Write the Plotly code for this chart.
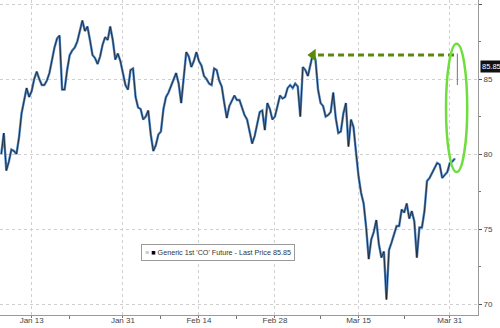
import pandas as pd
import plotly.graph_objects as go

# ---- data (Brent, 3 readings per trading day at 00h, 08h, 16h) ----
start_day = "2023-01-09"
end_day = "2023-03-31"
slot_hours = [0, 8, 16]
prices = [
    80.0, 81.4, 78.9, 79.5, 80.3, 80.2, 80.0, 81.1, 82.7, 83.5,
    84.4, 83.8, 84.2, 85.0, 85.5, 85.0, 84.6, 84.6, 84.9, 85.4,
    86.3, 87.1, 87.7, 87.9, 84.3, 84.3, 85.6, 86.6, 86.9, 87.1,
    87.5, 88.3, 88.9, 88.2, 88.5, 87.6, 86.6, 86.4, 86.0, 86.5,
    87.3, 87.8, 87.6, 88.5, 87.6, 86.3, 86.7, 86.2, 85.3, 84.6,
    84.3, 85.6, 85.7, 83.8, 83.1, 83.0, 82.3, 82.5, 82.9, 81.3,
    80.2, 80.6, 81.3, 81.5, 83.0, 83.8, 84.1, 84.5, 85.0, 85.4,
    84.7, 83.4, 85.1, 86.8, 86.5, 85.8, 86.2, 86.8, 86.2, 85.9,
    85.2, 85.0, 84.7, 84.6, 85.7, 85.6, 84.9, 84.5, 83.4, 82.4,
    83.2, 83.6, 83.9, 83.6, 83.6, 83.1, 82.6, 82.3, 81.5, 80.7,
    81.2, 82.1, 82.8, 82.9, 81.6, 83.4, 83.0, 82.3, 82.5, 83.2,
    83.9, 83.7, 83.8, 84.4, 84.6, 84.4, 84.7, 84.5, 82.5, 85.8,
    85.6, 85.2, 85.9, 86.7, 86.3, 84.3, 83.4, 83.2, 82.5, 82.6,
    82.8, 84.1, 82.4, 81.4, 81.5, 82.7, 83.4, 80.5, 82.3, 81.8,
    80.1, 78.5, 77.4, 76.7, 75.1, 73.0, 74.3, 74.8, 75.6, 74.0,
    73.1, 73.5, 70.3, 73.6, 74.1, 74.7, 75.2, 75.2, 76.3, 76.1,
    76.7, 75.7, 76.2, 75.5, 73.1, 75.1, 75.1, 76.2, 78.2, 78.4,
    78.7, 79.0, 79.4, 79.3, 78.4, 78.6, 78.8, 79.4, 79.5, 79.7,
]
gap_date = "2023-04-03 00:00"
gap_range = [86.7, 84.6]
last_price = 85.85
prior_high_date = "2023-03-07 00:00"
prior_high = 86.6
series_name = "Generic 1st 'CO' Future - Last Price"

tick_dates = ["2023-01-13", "2023-01-31", "2023-02-14", "2023-02-28", "2023-03-15", "2023-03-31"]
tick_labels = ["Jan 13", "Jan 31", "Feb 14", "Feb 28", "Mar 15", "Mar 31"]
minor_dates = ["2023-01-20", "2023-02-07", "2023-02-21", "2023-03-08", "2023-03-23"]
y_ticks = [70, 75, 80, 85, 90]
y_minor = [72.5, 77.5, 82.5, 87.5]

days = pd.bdate_range(start_day, end_day)
times = [d + pd.Timedelta(hours=h) for d in days for h in slot_hours]

fig = go.Figure()
fig.add_trace(go.Scatter(x=times, y=prices, mode="lines",
                         line=dict(color="#4f86c6", width=2.4), hoverinfo="skip"))
fig.add_trace(go.Scatter(x=times, y=prices, mode="lines",
                         line=dict(color="#1a1a1a", width=0.8), hoverinfo="skip"))
fig.add_trace(go.Scatter(x=[gap_date, gap_date], y=gap_range, mode="lines",
                         line=dict(color="#8a8a8a", width=1.2), hoverinfo="skip"))

# dashed green arrow from the gap back to prior high
fig.add_shape(type="line", xref="x", yref="y",
              x0="2023-03-07 16:00", x1=gap_date, y0=prior_high, y1=prior_high,
              line=dict(color="#5a8a0c", width=3, dash="6px,4px"))
fig.add_trace(go.Scatter(x=[prior_high_date], y=[prior_high], mode="markers",
                         marker=dict(symbol="triangle-left", size=11, color="#5a8a0c"),
                         hoverinfo="skip"))

# green ellipse
fig.add_shape(type="circle", xref="x", yref="y",
              x0="2023-03-30 12:00", x1="2023-04-04 07:00", y0=78.8, y1=87.35,
              line=dict(color="#6ede3c", width=2.5))

grid = "#cfcfcf"
fig.update_layout(
    width=500, height=328,
    margin=dict(l=0, r=22, t=0, b=13),
    paper_bgcolor="white", plot_bgcolor="white",
    showlegend=False,
    font=dict(family="Liberation Sans, Arial, sans-serif", size=8, color="#444"),
    xaxis=dict(
        range=["2023-01-06 20:00", "2023-04-05 17:00"],
        rangebreaks=[dict(bounds=["sat", "mon"])],
        tickmode="array", tickvals=tick_dates, ticktext=tick_labels,
        showgrid=True, gridcolor=grid, griddash="dot", gridwidth=1,
        showline=True, linecolor="#9a9a9a", linewidth=1,
        ticks="outside", ticklen=2, tickcolor="#777",
        ticklabelstandoff=-5,
        minor=dict(tickvals=minor_dates, ticks="outside", ticklen=3, tickcolor="#777", showgrid=False),
        zeroline=False, automargin=False,
        tickfont=dict(size=8, color="#444"),
    ),
    yaxis=dict(
        side="right", range=[69.27, 90.27],
        tickmode="array", tickvals=y_ticks,
        showgrid=True, gridcolor=grid, griddash="dot", gridwidth=1,
        showline=True, linecolor="#9a9a9a", linewidth=1,
        ticks="outside", ticklen=3, tickcolor="#555",
        minor=dict(tickvals=y_minor, ticks="outside", ticklen=2, tickcolor="#777", showgrid=False),
        zeroline=False, automargin=False,
        tickfont=dict(size=8, color="#444"),
    ),
)

fig.add_annotation(xref="paper", yref="y", x=1, y=last_price, xanchor="left", xshift=2,
                   text=f"{last_price:.2f}", showarrow=False, bgcolor="#111",
                   font=dict(color="white", size=7.5), borderpad=1)

fig.add_annotation(xref="paper", yref="paper", x=0.456, y=0.171,
                   text=f"<span style='color:#aaa'>≡</span> <span style='color:#000'>■</span> {series_name} {last_price:.2f}",
                   showarrow=False, bgcolor="white", bordercolor="#9a9a9a", borderwidth=1,
                   borderpad=3, font=dict(size=7.2, color="#333"))

fig.write_html("out.html")
